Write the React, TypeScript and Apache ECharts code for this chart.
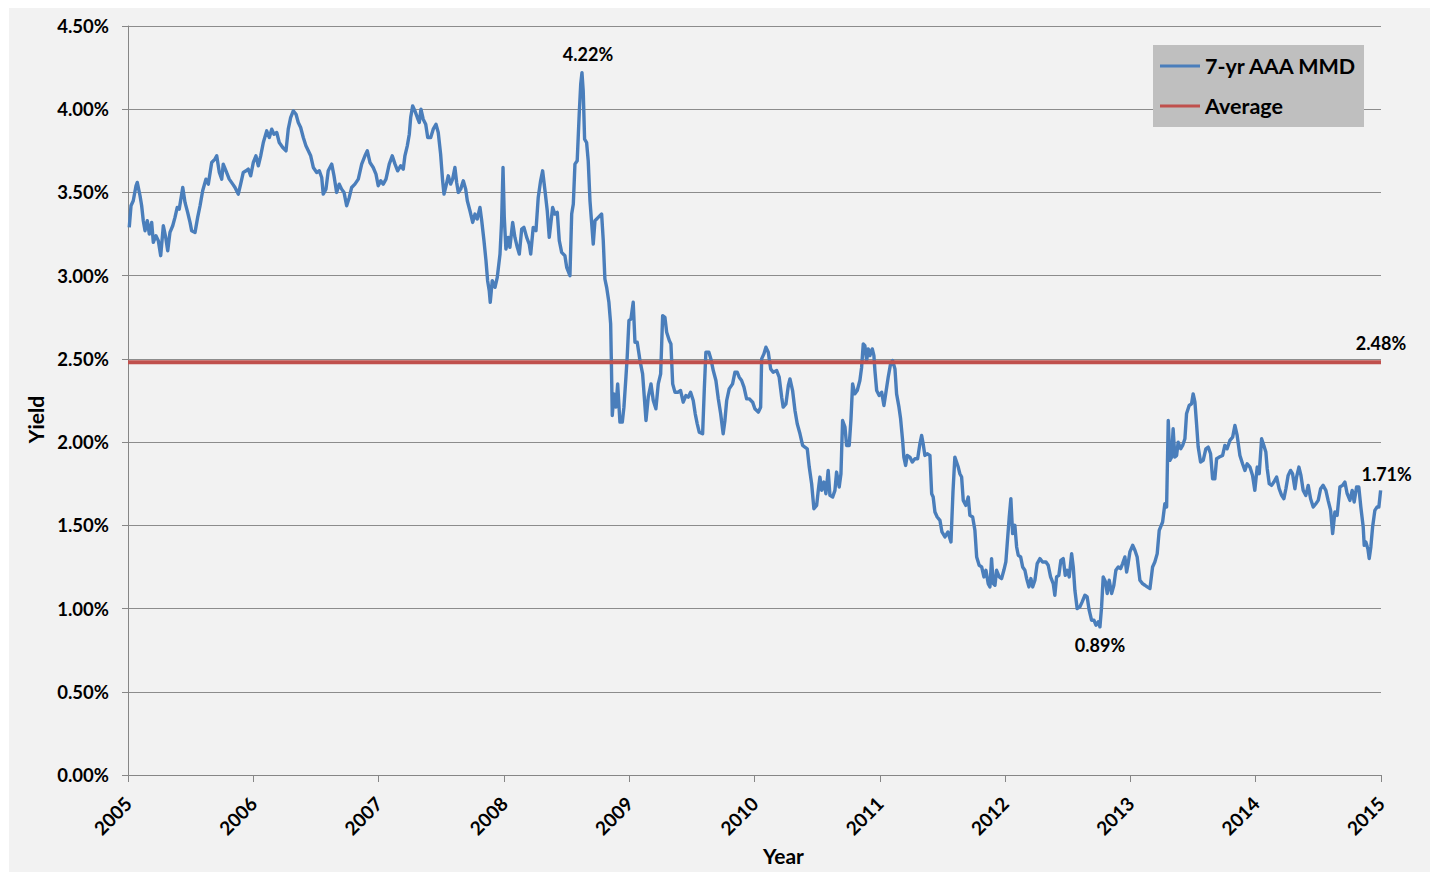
import React, { useEffect, useRef } from "react";
import * as echarts from "echarts";

type Pt = [number, number];

const y2005: Pt[] = [
  [2005.010, 3.29], [2005.024, 3.42], [2005.042, 3.45], [2005.064, 3.54], [2005.074, 3.56], [2005.096, 3.48],
  [2005.109, 3.42], [2005.122, 3.33], [2005.136, 3.27], [2005.154, 3.33], [2005.170, 3.25], [2005.189, 3.32],
  [2005.202, 3.20], [2005.223, 3.24], [2005.242, 3.21], [2005.261, 3.12], [2005.282, 3.30], [2005.301, 3.23],
  [2005.317, 3.15], [2005.335, 3.26], [2005.357, 3.30], [2005.375, 3.35], [2005.393, 3.41], [2005.409, 3.40],
  [2005.437, 3.53], [2005.455, 3.44], [2005.476, 3.38], [2005.495, 3.32], [2005.508, 3.27], [2005.535, 3.26],
  [2005.556, 3.35], [2005.575, 3.42], [2005.596, 3.51], [2005.622, 3.58], [2005.641, 3.55], [2005.668, 3.68],
  [2005.694, 3.70], [2005.708, 3.72], [2005.729, 3.62], [2005.748, 3.58], [2005.760, 3.67], [2005.782, 3.63],
  [2005.808, 3.58], [2005.836, 3.55], [2005.854, 3.53], [2005.880, 3.49], [2005.899, 3.55], [2005.920, 3.62],
  [2005.942, 3.63], [2005.960, 3.64], [2005.979, 3.60],
];
const y2006: Pt[] = [
  [2006.000, 3.68], [2006.021, 3.72], [2006.040, 3.66], [2006.059, 3.72], [2006.080, 3.80], [2006.107, 3.87],
  [2006.128, 3.83], [2006.147, 3.88], [2006.165, 3.85], [2006.187, 3.86], [2006.207, 3.80], [2006.235, 3.77],
  [2006.261, 3.75], [2006.279, 3.88], [2006.298, 3.95], [2006.319, 3.99], [2006.341, 3.97], [2006.359, 3.92],
  [2006.378, 3.89], [2006.399, 3.83], [2006.420, 3.78], [2006.439, 3.75], [2006.458, 3.72], [2006.479, 3.65],
  [2006.506, 3.62], [2006.527, 3.63], [2006.546, 3.59], [2006.558, 3.49], [2006.580, 3.52], [2006.598, 3.63],
  [2006.626, 3.67], [2006.644, 3.60], [2006.665, 3.50], [2006.686, 3.55], [2006.705, 3.52], [2006.724, 3.50],
  [2006.745, 3.42], [2006.766, 3.47], [2006.785, 3.53], [2006.811, 3.55], [2006.838, 3.58], [2006.865, 3.67],
  [2006.891, 3.72], [2006.910, 3.75], [2006.931, 3.68], [2006.957, 3.65], [2006.979, 3.61], [2006.997, 3.54],
];
const y2007: Pt[] = [
  [2007.017, 3.57], [2007.037, 3.55], [2007.059, 3.58], [2007.085, 3.67], [2007.109, 3.72], [2007.131, 3.67],
  [2007.152, 3.63], [2007.176, 3.66], [2007.197, 3.64], [2007.210, 3.72], [2007.229, 3.78], [2007.245, 3.85],
  [2007.256, 3.95], [2007.272, 4.02], [2007.290, 3.99], [2007.309, 3.95], [2007.325, 3.92], [2007.338, 4.00],
  [2007.356, 3.94], [2007.376, 3.91], [2007.392, 3.83], [2007.416, 3.83], [2007.436, 3.88], [2007.458, 3.91],
  [2007.476, 3.86], [2007.495, 3.73], [2007.511, 3.57], [2007.522, 3.49], [2007.538, 3.54], [2007.556, 3.60],
  [2007.575, 3.55], [2007.591, 3.58], [2007.609, 3.65], [2007.623, 3.56], [2007.636, 3.50], [2007.655, 3.52],
  [2007.676, 3.57], [2007.695, 3.52], [2007.708, 3.45], [2007.729, 3.39], [2007.751, 3.32], [2007.769, 3.37],
  [2007.787, 3.34], [2007.809, 3.41], [2007.823, 3.33], [2007.841, 3.21], [2007.857, 3.09], [2007.870, 2.97],
  [2007.883, 2.91], [2007.891, 2.84], [2007.907, 2.97], [2007.929, 2.93], [2007.947, 2.99], [2007.969, 3.13],
  [2007.982, 3.33], [2007.993, 3.65],
];
const y2008: Pt[] = [
  [2008.003, 3.35], [2008.016, 3.16], [2008.035, 3.23], [2008.048, 3.17], [2008.070, 3.32], [2008.088, 3.23],
  [2008.107, 3.17], [2008.123, 3.13], [2008.142, 3.28], [2008.160, 3.29], [2008.182, 3.23], [2008.202, 3.19],
  [2008.214, 3.13], [2008.234, 3.29], [2008.256, 3.27], [2008.274, 3.47], [2008.293, 3.57], [2008.309, 3.63],
  [2008.328, 3.51], [2008.346, 3.39], [2008.362, 3.23], [2008.389, 3.41], [2008.407, 3.37], [2008.426, 3.38],
  [2008.442, 3.21], [2008.461, 3.14], [2008.487, 3.12], [2008.501, 3.05], [2008.527, 3.00], [2008.541, 3.37],
  [2008.554, 3.43], [2008.567, 3.67], [2008.585, 3.69], [2008.601, 3.97], [2008.613, 4.15], [2008.623, 4.22],
  [2008.633, 4.11], [2008.644, 3.82], [2008.660, 3.80], [2008.673, 3.69], [2008.687, 3.45], [2008.700, 3.32],
  [2008.713, 3.19], [2008.727, 3.33], [2008.753, 3.35], [2008.780, 3.37], [2008.793, 3.21], [2008.806, 2.98],
  [2008.820, 2.93], [2008.838, 2.84], [2008.852, 2.71], [2008.857, 2.51], [2008.865, 2.16], [2008.878, 2.29],
  [2008.894, 2.21], [2008.908, 2.35], [2008.926, 2.12], [2008.945, 2.12], [2008.958, 2.21], [2008.974, 2.39],
  [2008.984, 2.51], [2008.998, 2.73],
];
const y2009: Pt[] = [
  [2009.014, 2.74], [2009.032, 2.84], [2009.046, 2.60], [2009.064, 2.60], [2009.086, 2.49], [2009.107, 2.41],
  [2009.134, 2.13], [2009.152, 2.27], [2009.174, 2.35], [2009.192, 2.25], [2009.213, 2.20], [2009.232, 2.35],
  [2009.251, 2.41], [2009.267, 2.76], [2009.285, 2.75], [2009.299, 2.66], [2009.320, 2.61], [2009.333, 2.59],
  [2009.347, 2.35], [2009.365, 2.30], [2009.391, 2.30], [2009.410, 2.31], [2009.431, 2.24], [2009.453, 2.28],
  [2009.471, 2.27], [2009.490, 2.30], [2009.511, 2.25], [2009.527, 2.17], [2009.543, 2.11], [2009.559, 2.06],
  [2009.586, 2.05], [2009.599, 2.31], [2009.612, 2.54], [2009.636, 2.54], [2009.652, 2.50], [2009.671, 2.43],
  [2009.692, 2.37], [2009.711, 2.26], [2009.730, 2.17], [2009.750, 2.05], [2009.764, 2.13], [2009.778, 2.25],
  [2009.798, 2.32], [2009.825, 2.35], [2009.844, 2.42], [2009.862, 2.42], [2009.878, 2.39], [2009.897, 2.37],
  [2009.916, 2.33], [2009.937, 2.26], [2009.958, 2.26], [2009.985, 2.24],
];
const y2010: Pt[] = [
  [2010.003, 2.20], [2010.030, 2.18], [2010.049, 2.21], [2010.057, 2.50], [2010.075, 2.53], [2010.091, 2.57],
  [2010.110, 2.54], [2010.129, 2.44], [2010.149, 2.42], [2010.177, 2.43], [2010.197, 2.39], [2010.217, 2.27],
  [2010.229, 2.21], [2010.251, 2.23], [2010.270, 2.34], [2010.283, 2.38], [2010.304, 2.31], [2010.323, 2.19],
  [2010.341, 2.11], [2010.363, 2.05], [2010.384, 1.98], [2010.402, 1.97], [2010.421, 1.96], [2010.437, 1.85],
  [2010.456, 1.75], [2010.474, 1.60], [2010.496, 1.62], [2010.509, 1.71], [2010.522, 1.79], [2010.536, 1.71],
  [2010.554, 1.76], [2010.570, 1.69], [2010.588, 1.83], [2010.602, 1.68], [2010.624, 1.67], [2010.642, 1.71],
  [2010.655, 1.82], [2010.676, 1.73], [2010.690, 1.81], [2010.703, 2.13], [2010.722, 2.09], [2010.735, 1.98],
  [2010.756, 1.98], [2010.770, 2.14], [2010.783, 2.35], [2010.801, 2.29], [2010.820, 2.31], [2010.841, 2.37],
  [2010.855, 2.45], [2010.868, 2.59], [2010.881, 2.58], [2010.895, 2.49], [2010.908, 2.56], [2010.921, 2.52],
  [2010.940, 2.56], [2010.953, 2.52], [2010.961, 2.43], [2010.975, 2.31], [2010.995, 2.28],
];
const y2011: Pt[] = [
  [2011.015, 2.30], [2011.033, 2.22], [2011.049, 2.30], [2011.067, 2.39], [2011.086, 2.47], [2011.102, 2.49],
  [2011.121, 2.44], [2011.134, 2.29], [2011.153, 2.21], [2011.166, 2.14], [2011.182, 2.01], [2011.192, 1.91],
  [2011.206, 1.86], [2011.219, 1.92], [2011.240, 1.91], [2011.259, 1.88], [2011.280, 1.90], [2011.302, 1.90],
  [2011.320, 1.99], [2011.334, 2.04], [2011.346, 1.99], [2011.360, 1.92], [2011.378, 1.93], [2011.400, 1.92],
  [2011.414, 1.69], [2011.426, 1.67], [2011.440, 1.58], [2011.458, 1.55], [2011.480, 1.53], [2011.496, 1.46],
  [2011.520, 1.43], [2011.544, 1.46], [2011.568, 1.40], [2011.584, 1.70], [2011.599, 1.91], [2011.626, 1.85],
  [2011.639, 1.81], [2011.653, 1.79], [2011.666, 1.65], [2011.687, 1.62], [2011.706, 1.67], [2011.719, 1.56],
  [2011.741, 1.55], [2011.759, 1.47], [2011.773, 1.31], [2011.793, 1.26], [2011.813, 1.25], [2011.831, 1.19],
  [2011.847, 1.23], [2011.865, 1.15], [2011.879, 1.13], [2011.892, 1.30], [2011.905, 1.15], [2011.919, 1.14],
  [2011.932, 1.23], [2011.953, 1.19], [2011.972, 1.18], [2011.990, 1.23],
];
const y2012: Pt[] = [
  [2012.006, 1.28], [2012.017, 1.39], [2012.033, 1.55], [2012.046, 1.66], [2012.060, 1.45], [2012.078, 1.50],
  [2012.092, 1.37], [2012.105, 1.32], [2012.124, 1.31], [2012.140, 1.25], [2012.158, 1.23], [2012.172, 1.18],
  [2012.190, 1.13], [2012.206, 1.18], [2012.220, 1.13], [2012.238, 1.17], [2012.256, 1.27], [2012.278, 1.30],
  [2012.299, 1.28], [2012.326, 1.28], [2012.344, 1.26], [2012.363, 1.19], [2012.384, 1.15], [2012.397, 1.08],
  [2012.411, 1.19], [2012.429, 1.20], [2012.445, 1.29], [2012.464, 1.30], [2012.480, 1.20], [2012.496, 1.23],
  [2012.512, 1.19], [2012.531, 1.33], [2012.544, 1.25], [2012.557, 1.11], [2012.575, 1.00], [2012.597, 1.01],
  [2012.615, 1.04], [2012.637, 1.08], [2012.655, 1.07], [2012.671, 0.99], [2012.690, 0.93], [2012.709, 0.93],
  [2012.725, 0.90], [2012.743, 0.92], [2012.757, 0.89], [2012.770, 1.01], [2012.783, 1.19], [2012.802, 1.16],
  [2012.815, 1.09], [2012.831, 1.17], [2012.850, 1.09], [2012.868, 1.14], [2012.884, 1.23], [2012.903, 1.25],
  [2012.922, 1.24], [2012.938, 1.27], [2012.956, 1.31], [2012.970, 1.22], [2012.982, 1.27], [2012.996, 1.34],
];
const y2013: Pt[] = [
  [2013.018, 1.38], [2013.036, 1.35], [2013.054, 1.31], [2013.076, 1.17], [2013.097, 1.15], [2013.116, 1.14],
  [2013.134, 1.13], [2013.156, 1.12], [2013.177, 1.25], [2013.195, 1.28], [2013.214, 1.33], [2013.230, 1.47],
  [2013.257, 1.52], [2013.275, 1.63], [2013.289, 1.61], [2013.302, 2.13], [2013.315, 1.89], [2013.329, 1.91],
  [2013.341, 2.08], [2013.355, 1.91], [2013.369, 1.92], [2013.381, 2.00], [2013.401, 1.96], [2013.417, 1.98],
  [2013.435, 2.02], [2013.448, 2.17], [2013.469, 2.22], [2013.488, 2.23], [2013.501, 2.29], [2013.515, 2.24],
  [2013.528, 2.11], [2013.541, 1.97], [2013.560, 1.88], [2013.581, 1.89], [2013.602, 1.96], [2013.621, 1.97],
  [2013.640, 1.93], [2013.656, 1.78], [2013.674, 1.78], [2013.688, 1.90], [2013.709, 1.91], [2013.736, 1.92],
  [2013.754, 1.98], [2013.772, 1.96], [2013.794, 2.01], [2013.816, 2.03], [2013.834, 2.10], [2013.852, 2.04],
  [2013.874, 1.92], [2013.895, 1.87], [2013.914, 1.83], [2013.932, 1.87], [2013.954, 1.85], [2013.975, 1.80],
  [2013.993, 1.71],
];
const y2014: Pt[] = [
  [2014.012, 1.85], [2014.028, 1.81], [2014.047, 2.02], [2014.065, 1.98], [2014.081, 1.94], [2014.092, 1.84],
  [2014.108, 1.75], [2014.127, 1.74], [2014.145, 1.76], [2014.167, 1.79], [2014.187, 1.72], [2014.207, 1.68],
  [2014.225, 1.66], [2014.241, 1.72], [2014.259, 1.80], [2014.278, 1.83], [2014.294, 1.81], [2014.313, 1.72],
  [2014.326, 1.79], [2014.345, 1.85], [2014.361, 1.80], [2014.379, 1.71], [2014.400, 1.68], [2014.419, 1.74],
  [2014.438, 1.66], [2014.459, 1.61], [2014.480, 1.63], [2014.499, 1.65], [2014.518, 1.72], [2014.538, 1.74],
  [2014.560, 1.71], [2014.578, 1.65], [2014.598, 1.59], [2014.614, 1.45], [2014.632, 1.58], [2014.650, 1.56],
  [2014.672, 1.73], [2014.693, 1.74], [2014.712, 1.76], [2014.730, 1.69], [2014.752, 1.65], [2014.770, 1.71],
  [2014.786, 1.64], [2014.805, 1.73], [2014.823, 1.73], [2014.839, 1.61], [2014.858, 1.49], [2014.866, 1.38],
  [2014.879, 1.40], [2014.895, 1.36], [2014.906, 1.30], [2014.919, 1.37], [2014.933, 1.49], [2014.951, 1.59],
  [2014.969, 1.61], [2014.983, 1.61], [2014.997, 1.71],
];

const averageYield = 2.48;
const xStart = 2005;
const xEnd = 2015;
const seriesNames = ["7-yr AAA MMD", "Average"];

const FONT = "Lato, 'Open Sans', 'DejaVu Sans', sans-serif";

export default function App() {
  const ref = useRef<HTMLDivElement>(null);

  useEffect(() => {
    if (!ref.current) return;
    const chart = echarts.init(ref.current, null, { renderer: "svg" });
    const mmd: Pt[] = [
      ...y2005, ...y2006, ...y2007, ...y2008, ...y2009,
      ...y2010, ...y2011, ...y2012, ...y2013, ...y2014,
    ];
    let maxI = 0;
    let minI = 0;
    mmd.forEach((p, i) => {
      if (p[1] > mmd[maxI][1]) maxI = i;
      if (p[1] < mmd[minI][1]) minI = i;
    });
    const last = mmd[mmd.length - 1];
    const txt = { color: "#000", fontWeight: "bold" as const, fontFamily: FONT };
    const pct = (v: number) => v.toFixed(2) + "%";

    chart.setOption({
      animation: false,
      backgroundColor: "#f2f2f2",
      grid: { left: 119, top: 18, width: 1253, height: 749, containLabel: false },
      xAxis: {
        type: "value",
        min: xStart,
        max: xEnd,
        interval: 1,
        name: "Year",
        nameLocation: "middle",
        nameGap: 62,
        nameTextStyle: { ...txt, fontSize: 21, padding: [0, 0, 0, 58] },
        axisLine: { show: true, lineStyle: { color: "#868686", width: 1 } },
        axisTick: { show: true, length: 7, lineStyle: { color: "#868686" } },
        axisLabel: { ...txt, fontSize: 19, rotate: 45, margin: 25, formatter: (v: number) => String(v) },
        splitLine: { show: false },
      },
      yAxis: {
        type: "value",
        min: 0,
        max: 4.5,
        interval: 0.5,
        name: "Yield",
        nameLocation: "middle",
        nameGap: 82,
        nameTextStyle: { ...txt, fontSize: 21, padding: [0, 38, 0, 0] },
        axisLine: { show: true, lineStyle: { color: "#868686", width: 1 } },
        axisTick: { show: true, length: 6, lineStyle: { color: "#868686" } },
        axisLabel: { ...txt, fontSize: 18.5, margin: 19, formatter: (v: number) => pct(v) },
        splitLine: { show: true, lineStyle: { color: "#8c8c8c", width: 1 } },
      },
      graphic: [
        {
          type: "rect",
          z: 5,
          shape: { x: 1144, y: 37, width: 211, height: 82 },
          style: { fill: "#bfbfbf" },
        },
      ],
      legend: {
        z: 6,
        orient: "vertical",
        left: 1151,
        top: 47,
        padding: 0,
        itemWidth: 40,
        itemHeight: 3,
        itemGap: 18,
        icon: "rect",
        data: seriesNames,
        textStyle: { ...txt, fontSize: 21.5, lineHeight: 22 },
      },
      series: [
        {
          name: seriesNames[0],
          type: "line",
          data: mmd,
          showSymbol: false,
          symbol: "none",
          color: "#4a7ebb",
          lineStyle: { color: "#4a7ebb", width: 3.4, join: "round" },
          z: 2,
          markPoint: {
            symbol: "circle",
            symbolSize: 1,
            itemStyle: { color: "rgba(0,0,0,0)" },
            label: { show: true, ...txt, fontSize: 18 },
            data: [
              {
                coord: mmd[maxI],
                value: mmd[maxI][1],
                label: { position: "top", distance: 9, offset: [6, 0], formatter: () => pct(mmd[maxI][1]) },
              },
              {
                coord: mmd[minI],
                value: mmd[minI][1],
                label: { position: "bottom", distance: 9, formatter: () => pct(mmd[minI][1]) },
              },
              {
                coord: last,
                value: last[1],
                label: { position: "top", distance: 7, offset: [6, 0], formatter: () => pct(last[1]) },
              },
            ],
          },
        },
        {
          name: seriesNames[1],
          type: "line",
          data: [
            [xStart, averageYield],
            [xEnd, averageYield],
          ],
          showSymbol: false,
          symbol: "none",
          color: "#c0504d",
          lineStyle: { color: "#c0504d", width: 4 },
          z: 3,
          markPoint: {
            symbol: "circle",
            symbolSize: 1,
            itemStyle: { color: "rgba(0,0,0,0)" },
            label: { show: true, ...txt, fontSize: 18 },
            data: [
              {
                coord: [xEnd, averageYield],
                value: averageYield,
                label: { position: "top", distance: 10, formatter: () => pct(averageYield) },
              },
            ],
          },
        },
      ],
    });
    return () => chart.dispose();
  }, []);

  return (
    <div
      ref={ref}
      style={{ position: "fixed", left: 9, top: 8, width: 1421, height: 864, background: "#f2f2f2" }}
    />
  );
}
